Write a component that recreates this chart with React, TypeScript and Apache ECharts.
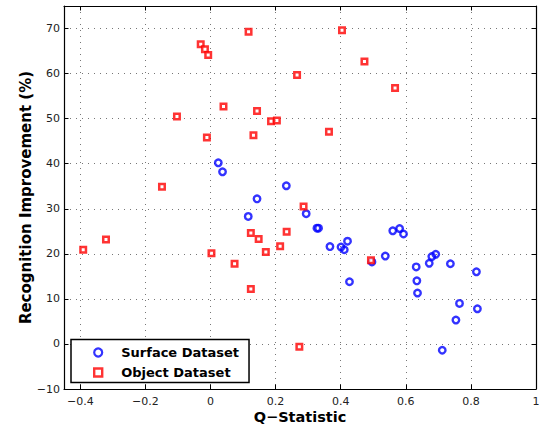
import React, { useEffect, useRef } from "react";
import * as echarts from "echarts";

const surfaceQ = [0.024, 0.037, 0.233, 0.143, 0.116, 0.294, 0.327, 0.332, 0.367, 0.401, 0.411, 0.421, 0.496, 0.427, 0.537, 0.56, 0.581, 0.593, 0.632, 0.634, 0.636, 0.672, 0.68, 0.692, 0.737, 0.817, 0.765, 0.82, 0.754, 0.712];
const surfaceImp = [40.2, 38.2, 35.1, 32.2, 28.3, 28.9, 25.7, 25.7, 21.6, 21.5, 20.9, 22.8, 18.2, 13.8, 19.5, 25.1, 25.6, 24.4, 17.1, 14.0, 11.3, 17.9, 19.4, 19.9, 17.8, 16.0, 9.0, 7.8, 5.3, -1.4];

const objectQ = [-0.03, -0.017, -0.007, 0.04, -0.103, -0.011, -0.149, 0.117, 0.404, 0.473, 0.266, 0.143, 0.186, 0.204, 0.132, 0.364, 0.567, -0.391, -0.321, 0.003, 0.286, 0.124, 0.148, 0.234, 0.17, 0.214, 0.074, 0.124, 0.273, 0.493];
const objectImp = [66.5, 65.4, 64.1, 52.7, 50.5, 45.8, 34.9, 69.3, 69.6, 62.7, 59.7, 51.7, 49.4, 49.6, 46.3, 47.1, 56.8, 20.9, 23.2, 20.1, 30.5, 24.6, 23.3, 24.9, 20.4, 21.7, 17.8, 12.2, -0.6, 18.6];

const seriesNames = ["Surface Dataset", "Object Dataset"];
const xTitle = "Q\u2212Statistic";
const yTitle = "Recognition Improvement (%)";

const fmt = (v: number) => {
  const r = Math.round(v * 100) / 100;
  return String(r).replace("-", "\u2212");
};

export default function App() {
  const ref = useRef<HTMLDivElement>(null);
  useEffect(() => {
    if (!ref.current) return;
    const chart = echarts.init(ref.current, undefined, { renderer: "svg" });
    const tickFont = { fontFamily: "DejaVu Sans", fontSize: 11, color: "#222" };
    const dotted = { color: "#777", width: 1, type: [1, 5] as any };
    const blueStyle = { color: "rgba(0,0,0,0)", borderColor: "#0000ff", borderWidth: 2.4 };
    const redStyle = { color: "#ffffff", borderColor: "#ff0000", borderWidth: 2.5 };
    const frameAxis = {
      type: "value",
      axisLine: { show: true, onZero: false, lineStyle: { color: "#000", width: 1.2 } },
      axisTick: { show: true, inside: true, length: 4.5, lineStyle: { color: "#000" } },
    };
    chart.setOption({
      animation: false,
      grid: { left: 64, top: 6, right: 3, bottom: 38, containLabel: false, outerBoundsMode: "none" },
      xAxis: [
        {
          ...frameAxis,
          min: -0.45,
          max: 1,
          splitNumber: 7,
          position: "bottom",
          name: xTitle,
          nameLocation: "middle",
          nameGap: 20.5,
          nameMoveOverlap: false,
          nameTextStyle: { fontFamily: "DejaVu Sans", fontWeight: "bold", fontSize: 14.5, color: "#000" },
          axisLabel: { ...tickFont, margin: 7, showMinLabel: false, formatter: (v: number) => fmt(v) },
          splitLine: { show: true, lineStyle: dotted },
        },
        {
          ...frameAxis,
          min: -0.45,
          max: 1,
          splitNumber: 7,
          position: "top",
          axisLabel: { show: false },
          splitLine: { show: false },
        },
      ],
      yAxis: [
        {
          ...frameAxis,
          min: -10,
          max: 75,
          interval: 10,
          position: "left",
          name: yTitle,
          nameLocation: "middle",
          nameGap: 31,
          nameMoveOverlap: false,
          nameRotate: 90,
          nameTextStyle: { fontFamily: "DejaVu Sans", fontWeight: "bold", fontSize: 15, color: "#000" },
          axisLabel: { ...tickFont, margin: 4, showMaxLabel: false, formatter: (v: number) => fmt(v) },
          splitLine: { show: true, lineStyle: dotted },
        },
        {
          ...frameAxis,
          min: -10,
          max: 75,
          interval: 10,
          position: "right",
          axisLabel: { show: false },
          splitLine: { show: false },
        },
      ],
      legend: {
        orient: "vertical",
        left: 71,
        top: 339.5,
        backgroundColor: "#ffffff",
        borderColor: "#000",
        borderWidth: 1.5,
        borderRadius: 0,
        padding: [6, 10, 3, 22],
        itemWidth: 36,
        itemHeight: 8,
        itemGap: 6,
        symbolKeepAspect: true,
        textStyle: { fontFamily: "DejaVu Sans", fontWeight: "bold", fontSize: 13, lineHeight: 14, color: "#000" },
        data: [
          { name: seriesNames[0], icon: "circle", itemStyle: { ...blueStyle, borderWidth: 2.2 } },
          { name: seriesNames[1], icon: "path://M0,0L10,0L10,10L0,10Z", itemStyle: { ...redStyle, borderWidth: 2.4 } },
        ],
      },
      series: [
        {
          name: seriesNames[0],
          type: "scatter",
          xAxisIndex: 0,
          yAxisIndex: 0,
          symbol: "circle",
          symbolSize: 6.5,
          itemStyle: blueStyle,
          data: surfaceQ.map((q, i) => [q, surfaceImp[i]]),
        },
        {
          name: seriesNames[1],
          type: "scatter",
          xAxisIndex: 0,
          yAxisIndex: 0,
          symbol: "rect",
          symbolSize: 5.5,
          itemStyle: redStyle,
          data: objectQ.map((q, i) => [q, objectImp[i]]),
        },
      ],
    });
    return () => chart.dispose();
  }, []);
  return (
    <div
      ref={ref}
      style={{ position: "fixed", left: 0, top: 0, width: 539, height: 427, background: "#fff" }}
    />
  );
}
